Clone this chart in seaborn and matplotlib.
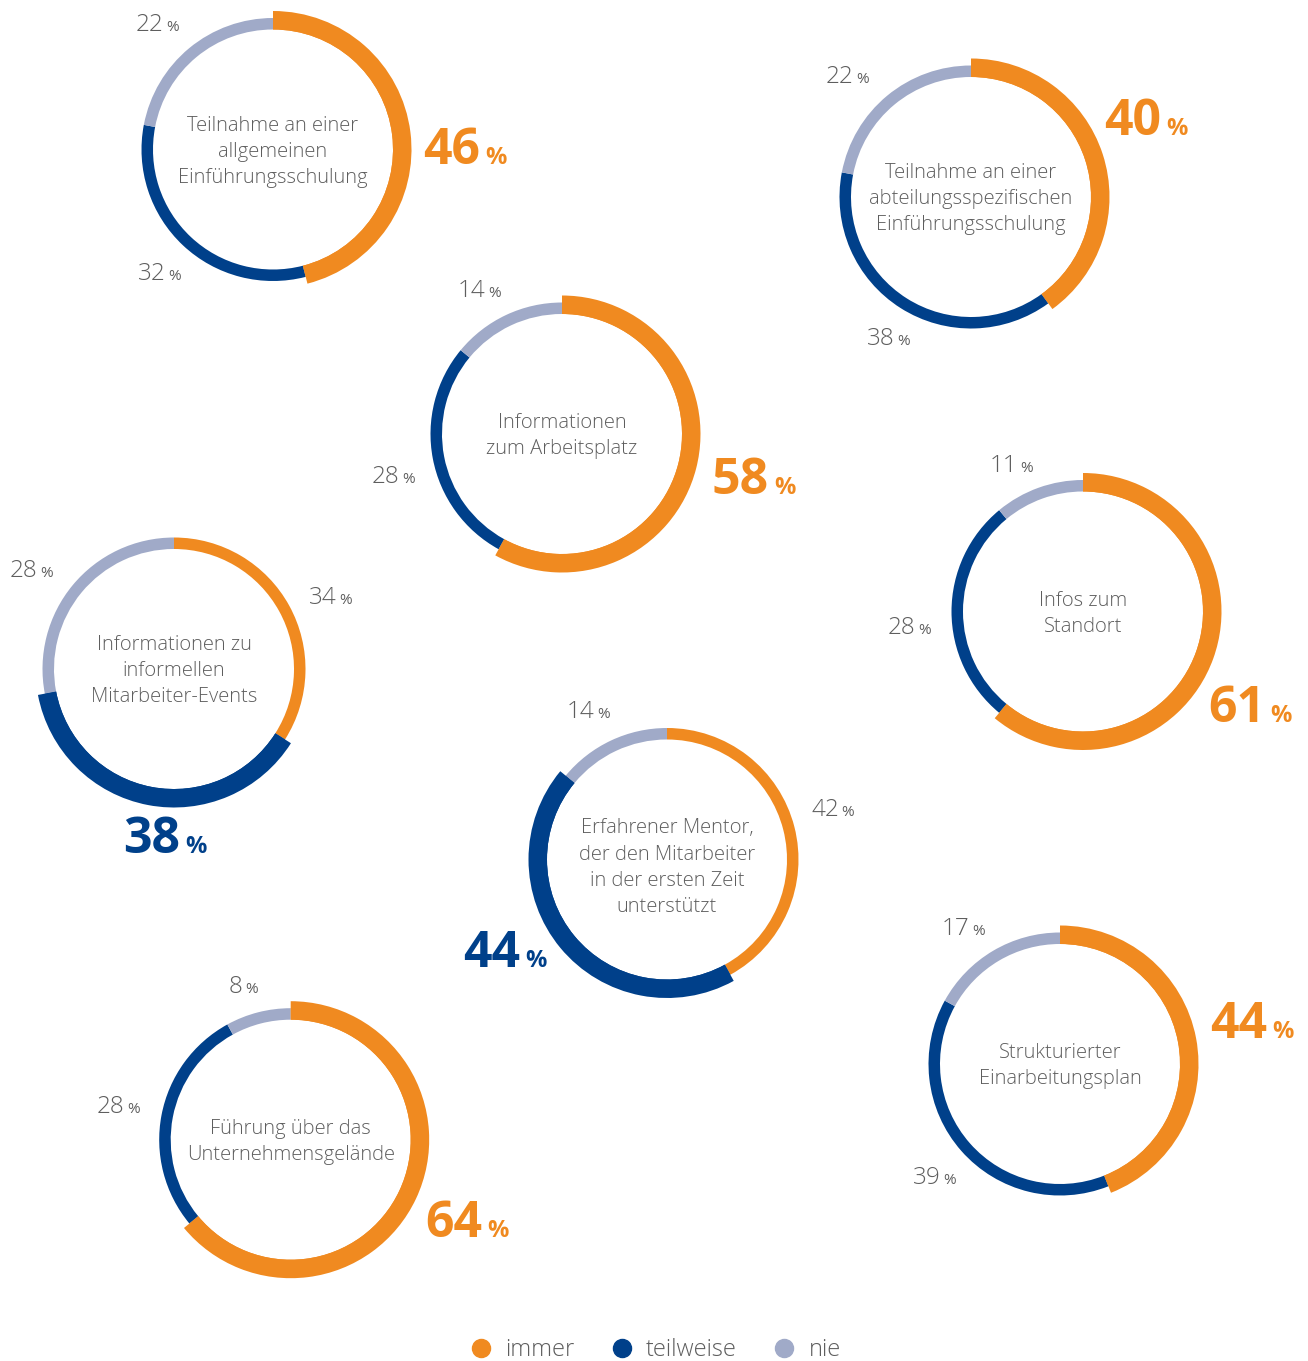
import matplotlib
matplotlib.use("Agg")
import matplotlib.pyplot as plt
from matplotlib.lines import Line2D
import seaborn as sns

W, H = 1308, 1361

categories = ["immer", "teilweise", "nie"]
topics = [
    "Teilnahme an einer\nallgemeinen\nEinführungsschulung",
    "Teilnahme an einer\nabteilungsspezifischen\nEinführungsschulung",
    "Informationen\nzum Arbeitsplatz",
    "Infos zum\nStandort",
    "Informationen zu\ninformellen\nMitarbeiter-Events",
    "Erfahrener Mentor,\nder den Mitarbeiter\nin der ersten Zeit\nunterstützt",
    "Führung über das\nUnternehmensgelände",
    "Strukturierter\nEinarbeitungsplan",
]
immer = [46, 40, 58, 61, 34, 42, 64, 44]
teilweise = [32, 38, 28, 28, 38, 44, 28, 39]
nie = [22, 22, 14, 11, 28, 14, 8, 17]

palette = {"immer": "#F08A20", "teilweise": "#00408A", "nie": "#A0AAC8"}
GRAY = "#5E5E5E"

# layout (pixels from top-left): ring centres, text shift and label anchors (immer, teilweise, nie)
centers = [(273, 149.5), (971, 197), (562, 434), (1083, 611.5),
           (174, 669), (667, 859.5), (290.7, 1139.7), (1060, 1064)]
text_dy = [2, 2, 2, 2, 2, 8, 2, 2]
label_pos = [
    [(423, 164), (138, 280), (136, 31)],
    [(1104, 135), (867, 345), (826, 83)],
    [(712, 494), (372, 483), (458, 297)],
    [(1208, 722), (888, 634), (990, 472)],
    [(309, 604), (123, 853), (10, 577)],
    [(811, 816), (463, 967), (567, 718)],
    [(425, 1237), (97, 1113), (229, 993)],
    [(1210, 1038), (913, 1184), (942, 935)],
]
R_IN, R_THIN, R_THICK = 120, 131.5, 138.5

sns.set_theme(style="white")
plt.rcParams["font.family"] = ["Open Sans", "DejaVu Sans"]

fig = plt.figure(figsize=(W / 100, H / 100), dpi=100)
ax = fig.add_axes([0, 0, 1, 1])

for i, topic in enumerate(topics):
    vals = [immer[i], teilweise[i], nie[i]]
    cols = [palette[c] for c in categories]
    cx, cy = centers[i]
    c = (cx, H - cy)
    ax.pie(vals, colors=cols, startangle=90, counterclock=False, center=c,
           radius=R_THIN, wedgeprops=dict(width=R_THIN - R_IN, linewidth=0))
    top = max(range(3), key=lambda k: vals[k])
    thick_cols = [cols[k] if k == top else "none" for k in range(3)]
    ax.pie(vals, colors=thick_cols, startangle=90, counterclock=False, center=c,
           radius=R_THICK, wedgeprops=dict(width=R_THICK - R_IN, linewidth=0))
    ax.text(cx, H - cy - text_dy[i], topic, ha="center", va="center",
            multialignment="center", fontsize=14.5, fontweight="light",
            color=GRAY, linespacing=1.4)

    for k in range(3):
        x, y = label_pos[i][k]
        big = k == top
        col = cols[k] if big else GRAY
        t = ax.text(x, H - y, str(vals[k]), ha="left", va="baseline",
                    fontsize=36 if big else 17.5, fontweight="bold" if big else "light",
                    color=col)
        ax.annotate("%", xy=(1, H - y), xycoords=(t, "data"),
                    xytext=(4 if big else 2, 0), textcoords="offset points",
                    ha="left", va="baseline", fontsize=17 if big else 11,
                    fontweight="bold" if big else "normal", color=col)

handles = [Line2D([0], [0], marker="o", ls="", markersize=13,
                  markerfacecolor=palette[c], markeredgecolor=palette[c])
           for c in categories]
ax.legend(handles, categories, loc="center", bbox_to_anchor=(656 / W, 1 - 1350 / H),
          ncol=3, frameon=False, prop={"size": 17, "weight": "light"},
          handlelength=0.8, handletextpad=0.62, columnspacing=1.62,
          labelcolor=GRAY, borderpad=0)

ax.set_xlim(0, W)
ax.set_ylim(0, H)
ax.set_aspect("equal")
ax.axis("off")

fig.savefig("out.png", dpi=100)
